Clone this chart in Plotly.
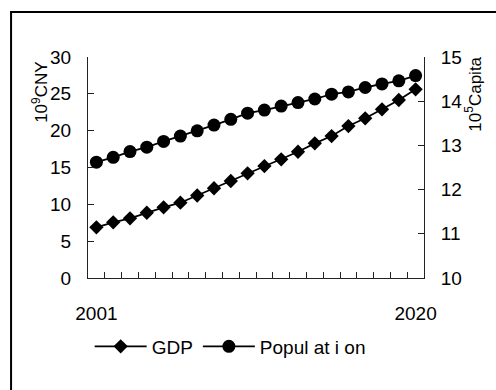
import plotly.graph_objects as go

years = [str(y) for y in range(2001, 2021)]
gdp = [6.88, 7.56, 8.10, 8.86, 9.60, 10.22, 11.20, 12.18, 13.17, 14.21,
       15.20, 16.11, 17.14, 18.28, 19.27, 20.63, 21.68, 22.90, 24.16, 25.61]
population = [12.62, 12.73, 12.86, 12.96, 13.09, 13.21, 13.33, 13.46, 13.59, 13.73,
              13.80, 13.89, 13.97, 14.05, 14.16, 14.21, 14.31, 14.39, 14.46, 14.58]
tick_text = ["2001"] + [""] * 18 + ["2020"]

FONT = "Liberation Sans, Arial, sans-serif"

fig = go.Figure()
fig.add_trace(go.Scatter(x=years, y=gdp, name="GDP", mode="lines+markers",
                         line=dict(color="black", width=1.8),
                         marker=dict(symbol="diamond", size=11, color="black"),
                         yaxis="y"))
fig.add_trace(go.Scatter(x=years, y=population, name="Popul at i on", mode="lines+markers",
                         line=dict(color="black", width=1.8),
                         marker=dict(symbol="circle", size=13, color="black"),
                         yaxis="y2"))

axis_common = dict(showgrid=False, zeroline=False, showline=True, linecolor="#222",
                   linewidth=1, ticks="inside", ticklen=6, tickcolor="#222",
                   automargin=False,
                   tickfont=dict(family=FONT, size=19, color="black"))

fig.update_layout(
    width=496, height=390,
    margin=dict(l=88, r=72, t=57, b=112, autoexpand=False),
    paper_bgcolor="white", plot_bgcolor="white",
    showlegend=True,
    legend=dict(orientation="h", x=0.005, xanchor="left", y=-0.31, yanchor="middle",
                font=dict(family=FONT, size=19, color="black"),
                itemwidth=52, tracegroupgap=0, bgcolor="rgba(0,0,0,0)"),
    xaxis=dict(type="category", range=[-0.5, 19.5], tickvals=years, ticktext=tick_text,
               tickson="boundaries", tickangle=0, ticklabelstandoff=18, **axis_common),
    yaxis=dict(range=[0, 30], dtick=5, ticklabelstandoff=12, **axis_common),
    yaxis2=dict(range=[10, 15], dtick=1, overlaying="y", side="right",
                ticklabelstandoff=12, **axis_common),
    annotations=[
        dict(text="10<sup>9</sup>CNY", xref="paper", yref="paper", x=-0.143, y=0.842,
             textangle=-90, showarrow=False, font=dict(family=FONT, size=17, color="black"),
             xanchor="center", yanchor="middle"),
        dict(text="10<sup>5</sup>Capita", xref="paper", yref="paper", x=1.146, y=0.830,
             textangle=-90, showarrow=False, font=dict(family=FONT, size=17, color="black"),
             xanchor="center", yanchor="middle"),
    ],
    shapes=[
        dict(type="line", xref="paper", yref="paper", x0=-0.229, x1=-0.229, y0=1.2036, y1=-0.6,
             line=dict(color="black", width=2)),
        dict(type="line", xref="paper", yref="paper", x0=-0.232, x1=1.3, y0=1.2036, y1=1.2036,
             line=dict(color="black", width=2)),
    ],
)

fig.write_html("out.html", config={"displayModeBar": False},
               post_script="document.body.style.margin='0';document.body.style.overflow='hidden';")
